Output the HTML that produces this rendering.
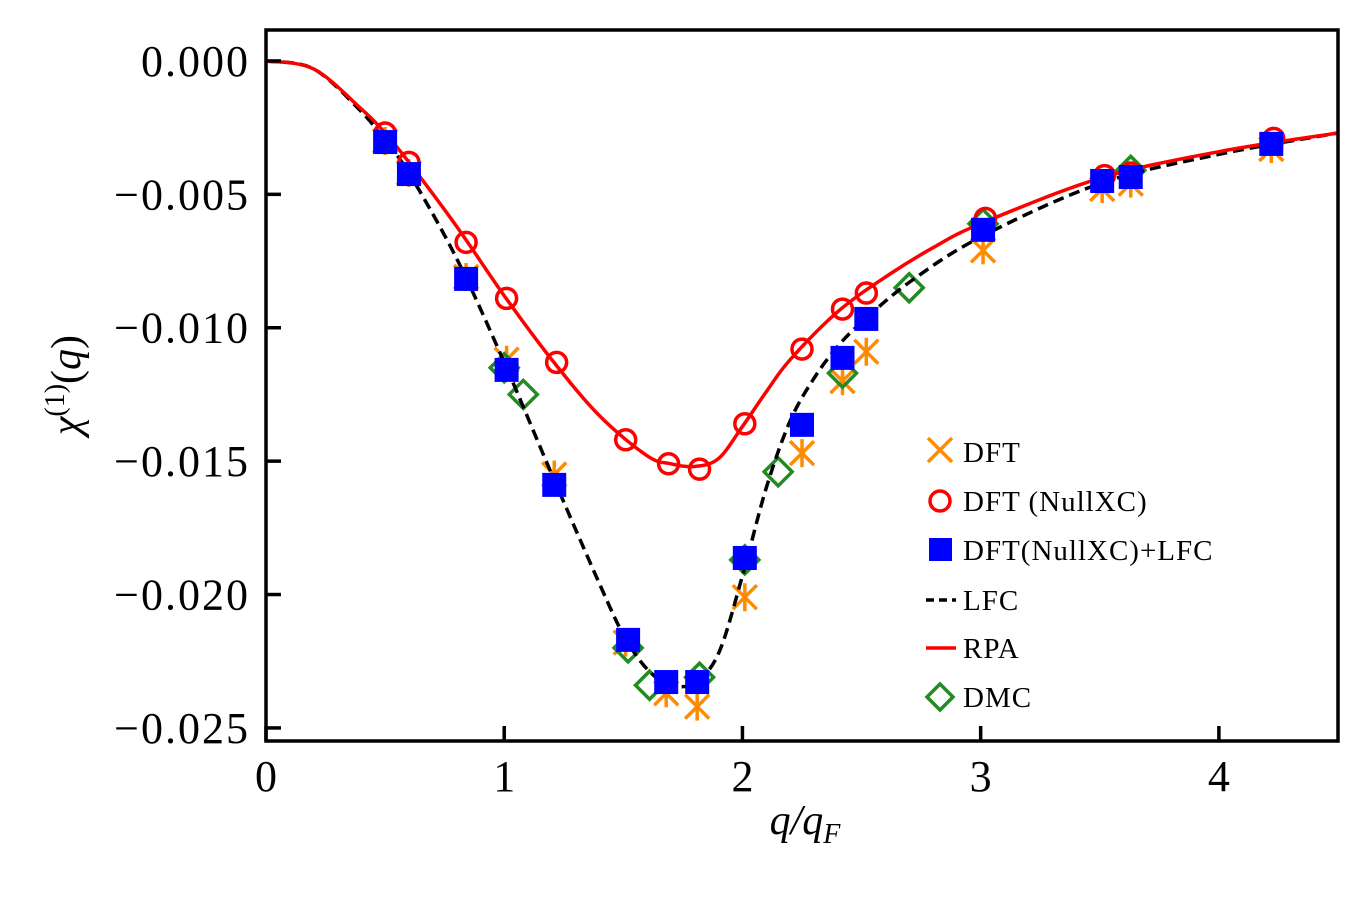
<!DOCTYPE html>
<html><head><meta charset="utf-8">
<style>
html,body{margin:0;padding:0;background:#fff;}
svg text{font-family:"Liberation Serif","DejaVu Serif",serif;fill:#000;}
</style></head>
<body>
<svg id="chart" width="1369" height="896" viewBox="0 0 1369 896" xmlns="http://www.w3.org/2000/svg">
<g id="marks"></g>
<g id="axes"></g>
</svg>
<script>
// ---- data ----
const xTicks = [0, 1, 2, 3, 4];
const xTickLabels = ["0", "1", "2", "3", "4"];
const yTicks = [0, -0.005, -0.010, -0.015, -0.020, -0.025];
const yTickLabels = ["0.000", "\u22120.005", "\u22120.010", "\u22120.015", "\u22120.020", "\u22120.025"];

const rpaQ = [0,0.2,0.4,0.5,0.6,0.8,1.0,1.2,1.4,1.6,1.7,1.8,1.9,2.0,2.1,2.2,2.4,2.6,2.8,3.0,3.5,4.0,4.5];
const rpaChi = [0,-0.0003,-0.0018,-0.0027,-0.0038,-0.0062,-0.0088,-0.0112,-0.0133,-0.0148,-0.0151,-0.0152,-0.0149,-0.0137,-0.0124,-0.0112,-0.0094,-0.0081,-0.0070,-0.0061,-0.0044,-0.0034,-0.0027];

const lfcQ = [0,0.2,0.4,0.5,0.6,0.8,1.0,1.2,1.4,1.5,1.6,1.7,1.8,1.9,2.0,2.1,2.2,2.3,2.4,2.5,2.7,3.0,3.5,4.0,4.5];
const lfcChi = [0,-0.0003,-0.0019,-0.0030,-0.0042,-0.0074,-0.0113,-0.0155,-0.0196,-0.0215,-0.0228,-0.0234,-0.0233,-0.0222,-0.0193,-0.0160,-0.0135,-0.0119,-0.0107,-0.0098,-0.0083,-0.0066,-0.0046,-0.0035,-0.0027];

const dftQ = [0.5,0.6,0.84,1.01,1.21,1.51,1.68,1.81,2.01,2.25,2.42,2.52,3.01,3.51,3.63,4.22];
const dftChi = [-0.0030,-0.0042,-0.0081,-0.0112,-0.0155,-0.0218,-0.0237,-0.0242,-0.0201,-0.0147,-0.0120,-0.0109,-0.0071,-0.0048,-0.0046,-0.0033];

const nullQ = [0.5,0.6,0.84,1.01,1.22,1.51,1.69,1.82,2.01,2.25,2.42,2.52,3.02,3.52,3.63,4.23];
const nullChi = [-0.0027,-0.0038,-0.0068,-0.0089,-0.0113,-0.0142,-0.0151,-0.0153,-0.0136,-0.0108,-0.0093,-0.0087,-0.0059,-0.0043,-0.0042,-0.0029];

const lfcPtQ = [0.5,0.6,0.84,1.01,1.21,1.52,1.68,1.81,2.01,2.25,2.42,2.52,3.01,3.51,3.63,4.22];
const lfcPtChi = [-0.00304,-0.00424,-0.00817,-0.01158,-0.01589,-0.0217,-0.02328,-0.02328,-0.01863,-0.01364,-0.01113,-0.00967,-0.00633,-0.0045,-0.00435,-0.00311];

const dmcQ = [1.0,1.08,1.52,1.61,1.82,2.01,2.15,2.42,2.7,3.01,3.63];
const dmcChi = [-0.0115,-0.0125,-0.0220,-0.0234,-0.0231,-0.0187,-0.0154,-0.0117,-0.0085,-0.0061,-0.0041];

// ---- layout ----
const L=266, R=1338, T=30, B=741;
const X0=0, X1=4.5;
const Y0=0.00116, Y1=-0.02549;
function xs(v){return L+(v-X0)/(X1-X0)*(R-L);}
function ys(v){return T+(Y0-v)/(Y0-Y1)*(B-T);}
const NS="http://www.w3.org/2000/svg";
function mk(tag, attrs, parent){const e=document.createElementNS(NS,tag);for(const k in attrs)e.setAttribute(k,attrs[k]);parent.appendChild(e);return e;}
const marks=document.getElementById('marks');
const axes=document.getElementById('axes');

function smoothPath(qs, cs){
  const p=qs.map((q,i)=>[xs(q),ys(cs[i])]);
  let d="M"+p[0][0]+","+p[0][1];
  for(let i=0;i<p.length-1;i++){
    const p0=p[Math.max(0,i-1)],p1=p[i],p2=p[i+1],p3=p[Math.min(p.length-1,i+2)];
    const c1=[p1[0]+(p2[0]-p0[0])/6,p1[1]+(p2[1]-p0[1])/6];
    const c2=[p2[0]-(p3[0]-p1[0])/6,p2[1]-(p3[1]-p1[1])/6];
    d+=" C"+c1+" "+c2+" "+p2;
  }
  return d;
}
const clip=mk('clipPath',{id:'plotclip'},marks);
mk('rect',{x:L,y:T,width:R-L,height:B-T},clip);
const cg=mk('g',{'clip-path':'url(#plotclip)'},marks);

// DFT markers
dftQ.forEach((q,i)=>{
  const x=xs(q),y=ys(dftChi[i]),s=12;
  const g=mk('path',{d:`M${x-s},${y-s}L${x+s},${y+s}M${x-s},${y+s}L${x+s},${y-s}M${x},${y-s-2}L${x},${y+s+2}`,stroke:'#ff8c00','stroke-width':3.5,fill:'none'},cg);
  
  
});
// DMC diamonds
dmcQ.forEach((q,i)=>{
  const x=xs(q),y=ys(dmcChi[i]),s=14;
  const g=mk('path',{d:`M${x},${y-s}L${x+s},${y}L${x},${y+s}L${x-s},${y}Z`,stroke:'#228b22','stroke-width':3.5,fill:'none'},cg);
  
  
});
// curves
const lfcPath=mk('path',{d:smoothPath(lfcQ,lfcChi),stroke:'#000','stroke-width':3.5,fill:'none','stroke-dasharray':'11,6'},cg);


const rpaPath=mk('path',{d:smoothPath(rpaQ,rpaChi),stroke:'#f00','stroke-width':3.5,fill:'none'},cg);


// NullXC circles
nullQ.forEach((q,i)=>{
  const c=mk('circle',{cx:xs(q),cy:ys(nullChi[i]),r:10,stroke:'#f00','stroke-width':3.5,fill:'none'},cg);
  
  
});
// LFC squares
lfcPtQ.forEach((q,i)=>{
  const s=12;
  const r=mk('rect',{x:xs(q)-s,y:ys(lfcPtChi[i])-s,width:2*s,height:2*s,fill:'#0000ff'},cg);
  
  
});

// frame
const frame=mk('rect',{x:L,y:T,width:R-L,height:B-T,fill:'none',stroke:'#000','stroke-width':3.5},axes);


xTicks.forEach((v,i)=>{
  const x=xs(v);
  const t=mk('line',{x1:x,y1:B,x2:x,y2:B-15,stroke:'#000','stroke-width':3.5},axes);
  
  
  const tx=mk('text',{x:x,y:B+50,'font-size':44,'text-anchor':'middle'},axes);
  tx.textContent=xTickLabels[i];
  
  
});
yTicks.forEach((v,i)=>{
  const y=ys(v);
  const t=mk('line',{x1:L,y1:y,x2:L+15,y2:y,stroke:'#000','stroke-width':3.5},axes);
  
  
  const tx=mk('text',{x:L-16,y:y+15,'font-size':44,'text-anchor':'end','letter-spacing':'2'},axes);
  tx.textContent=yTickLabels[i];
  
  
});
</script>
<svg style="position:absolute;left:0;top:0" width="1369" height="896">
<text x="805" y="834" font-size="42" text-anchor="middle" font-style="italic">q/q<tspan font-size="28" dy="9">F</tspan></text>
<text transform="translate(80,385) rotate(-90)" font-size="42" text-anchor="middle"><tspan font-style="italic">χ</tspan><tspan font-size="28" dy="-16">(1)</tspan><tspan dy="16">(</tspan><tspan font-style="italic">q</tspan>)</text>
<g font-size="29" letter-spacing="1">
  <g>
    <path d="M928,438L952,462M928,462L952,438" stroke="#ff8c00" stroke-width="3.5"/>
    <text x="963" y="462">DFT</text>
  </g>
  <g>
    <circle cx="940" cy="501" r="10" stroke="#f00" stroke-width="3.5" fill="none"/>
    <text x="963" y="511">DFT (NullXC)</text>
  </g>
  <g>
    <rect x="929" y="538" width="23" height="23" fill="#0000ff"/>
    <text x="963" y="560">DFT(NullXC)+LFC</text>
  </g>
  <g>
    <line x1="926" y1="600" x2="956" y2="600" stroke="#000" stroke-width="3.5" stroke-dasharray="8,5"/>
    <text x="963" y="610">LFC</text>
  </g>
  <g>
    <line x1="926" y1="648" x2="956" y2="648" stroke="#f00" stroke-width="3.5"/>
    <text x="963" y="658">RPA</text>
  </g>
  <g>
    <path d="M940,684L953,697L940,710L927,697Z" stroke="#228b22" stroke-width="3.5" fill="none"/>
    <text x="963" y="707">DMC</text>
  </g>
</g>
</svg>
</body></html>
